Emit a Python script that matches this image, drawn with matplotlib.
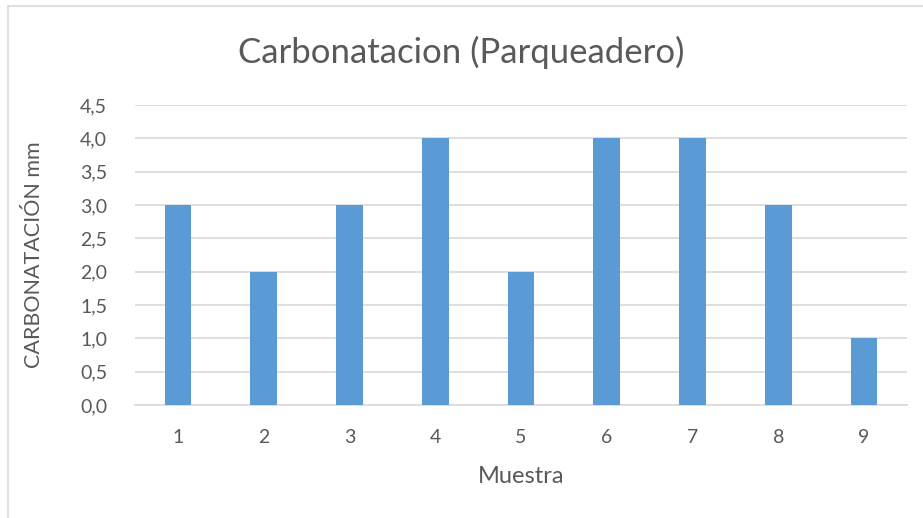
import matplotlib.pyplot as plt
from matplotlib.patches import Rectangle
from matplotlib.ticker import FuncFormatter

muestras = ["1", "2", "3", "4", "5", "6", "7", "8", "9"]
carbonatacion = [3.0, 2.0, 3.0, 4.0, 2.0, 4.0, 4.0, 3.0, 1.0]
yticks = [0.0, 0.5, 1.0, 1.5, 2.0, 2.5, 3.0, 3.5, 4.0, 4.5]

plt.rcParams['font.family'] = ['Lato', 'DejaVu Sans']
text_color = "#595959"

fig = plt.figure(figsize=(9.23, 5.18), dpi=100)
# chart frame
fig.patches.append(Rectangle((8 / 923, -0.01), 1.0, 1 - 6 / 518 + 0.01,
                             transform=fig.transFigure, fill=False,
                             edgecolor="#D9D9D9", linewidth=1.2))

ax = fig.add_axes([135 / 923, 1 - 405 / 518, 772 / 923, 300 / 518])
x = range(len(muestras))
ax.bar(x, carbonatacion, width=0.31, color="#5B9BD5", zorder=3)

ax.set_xlim(-0.5, len(muestras) - 0.5)
ax.set_ylim(0, 4.5)
ax.set_yticks(yticks)
ax.yaxis.set_major_formatter(FuncFormatter(lambda v, p: f"{v:.1f}".replace(".", ",")))
ax.set_xticks(list(x))
ax.set_xticklabels(muestras)

ax.grid(axis="y", color="#D9D9D9", linewidth=1.2, zorder=0)
for s in ["top", "right", "left"]:
    ax.spines[s].set_visible(False)
ax.spines["bottom"].set_color("#D9D9D9")
ax.spines["bottom"].set_linewidth(1.2)
ax.tick_params(length=0, labelsize=14, colors=text_color)
ax.tick_params(axis="x", pad=17)
ax.tick_params(axis="y", pad=20)

ax.set_xlabel("Muestra", fontsize=17, color=text_color, labelpad=15)
ax.set_ylabel("CARBONATACIÓN mm", fontsize=15.5, color=text_color, labelpad=26)
fig.text(0.5, 1 - 52 / 518, "Carbonatacion (Parqueadero)", ha="center", va="center",
         fontsize=25, color=text_color)

plt.savefig("out.png", dpi=100)
plt.close()
